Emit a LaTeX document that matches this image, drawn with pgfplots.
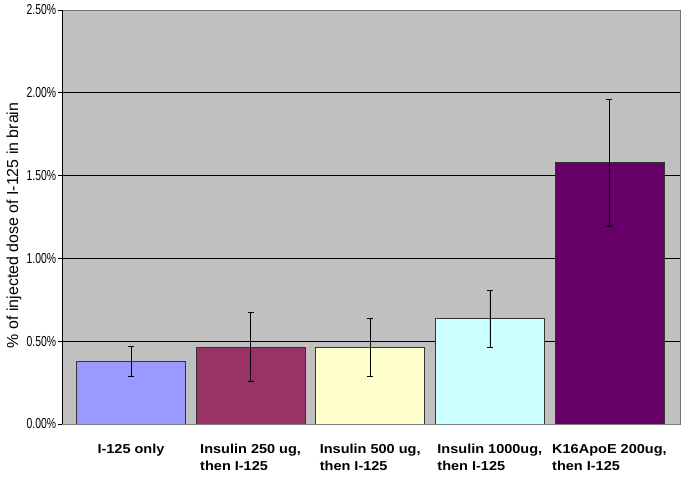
\documentclass[border=0pt]{standalone}
\usepackage{pgfplots}
\pgfplotsset{compat=1.18}
\usepackage{fontspec}
\setmainfont{Liberation Sans}
\definecolor{plotbg}{RGB}{192,192,192}
\definecolor{cA}{RGB}{153,153,255}
\definecolor{cB}{RGB}{153,51,102}
\definecolor{cC}{RGB}{255,255,204}
\definecolor{cD}{RGB}{204,255,255}
\definecolor{cE}{RGB}{102,0,102}
\begin{document}
\begin{tikzpicture}
\path[use as bounding box] (-62bp,-54bp) rectangle (623bp,424bp);
\begin{axis}[
    scale only axis, width=618bp, height=414bp,
    xmin=-0.577, xmax=4.59, ymin=0, ymax=2.5,
    axis lines*=left,
    x axis line style={draw=gray},
    y axis line style={draw=black},
    axis background/.style={fill=plotbg, draw=gray!90!black},
    ytick={0.5,1,1.5,2},
    yticklabels={0.50\%,1.00\%,1.50\%,2.00\%},
    extra y ticks={0,2.5},
    extra y tick labels={0.00\%,2.50\%},
    extra y tick style={grid=none},
    ymajorgrids, grid style={black, line width=0.6pt},
    yticklabel style={font=\fontsize{14.5}{14.5}\selectfont, xscale=0.72, anchor=east, xshift=1bp},
    y tick style={black, line width=0.6pt},
    tick align=outside, major tick length=4bp,
    xtick={0,1,2,3,4},
    x tick style={draw=none},
    xticklabels={{I-125 only},{Insulin 250 ug,\\then I-125},{Insulin 500 ug,\\then I-125},{Insulin 1000ug,\\then I-125},{K16ApoE 200ug,\\then I-125}},
    xticklabel style={font=\bfseries\fontsize{13}{17}\selectfont, align=left, anchor=north, yshift=-13bp, xscale=1.12},
    every axis y label/.style={at={(axis description cs:-0.0777,0.48)}, rotate=90, anchor=center},
    ylabel={\fontsize{16}{17}\selectfont \% of injected dose of I-125 in brain},
    ybar, bar width=109bp,
    error bars/y dir=both, error bars/y explicit,
    error bars/error bar style={black, line width=0.6pt},
    error bars/error mark options={black, line width=0.6pt, mark size=3bp, rotate=90},
]
\addplot[bar shift=0pt, fill=cA, draw=black!80, line width=0.6pt] coordinates {(0,0.379) +- (0,0.093)};
\addplot[bar shift=0pt, fill=cB, draw=black!80, line width=0.6pt] coordinates {(1,0.465) +- (0,0.21)};
\addplot[bar shift=0pt, fill=cC, draw=black!80, line width=0.6pt] coordinates {(2,0.461) +- (0,0.175)};
\addplot[bar shift=0pt, fill=cD, draw=black!80, line width=0.6pt] coordinates {(3,0.636) +- (0,0.17)};
\addplot[bar shift=0pt, fill=cE, draw=black!80, line width=0.6pt] coordinates {(4,1.578) +- (0,0.385)};
\end{axis}
\end{tikzpicture}
\end{document}
